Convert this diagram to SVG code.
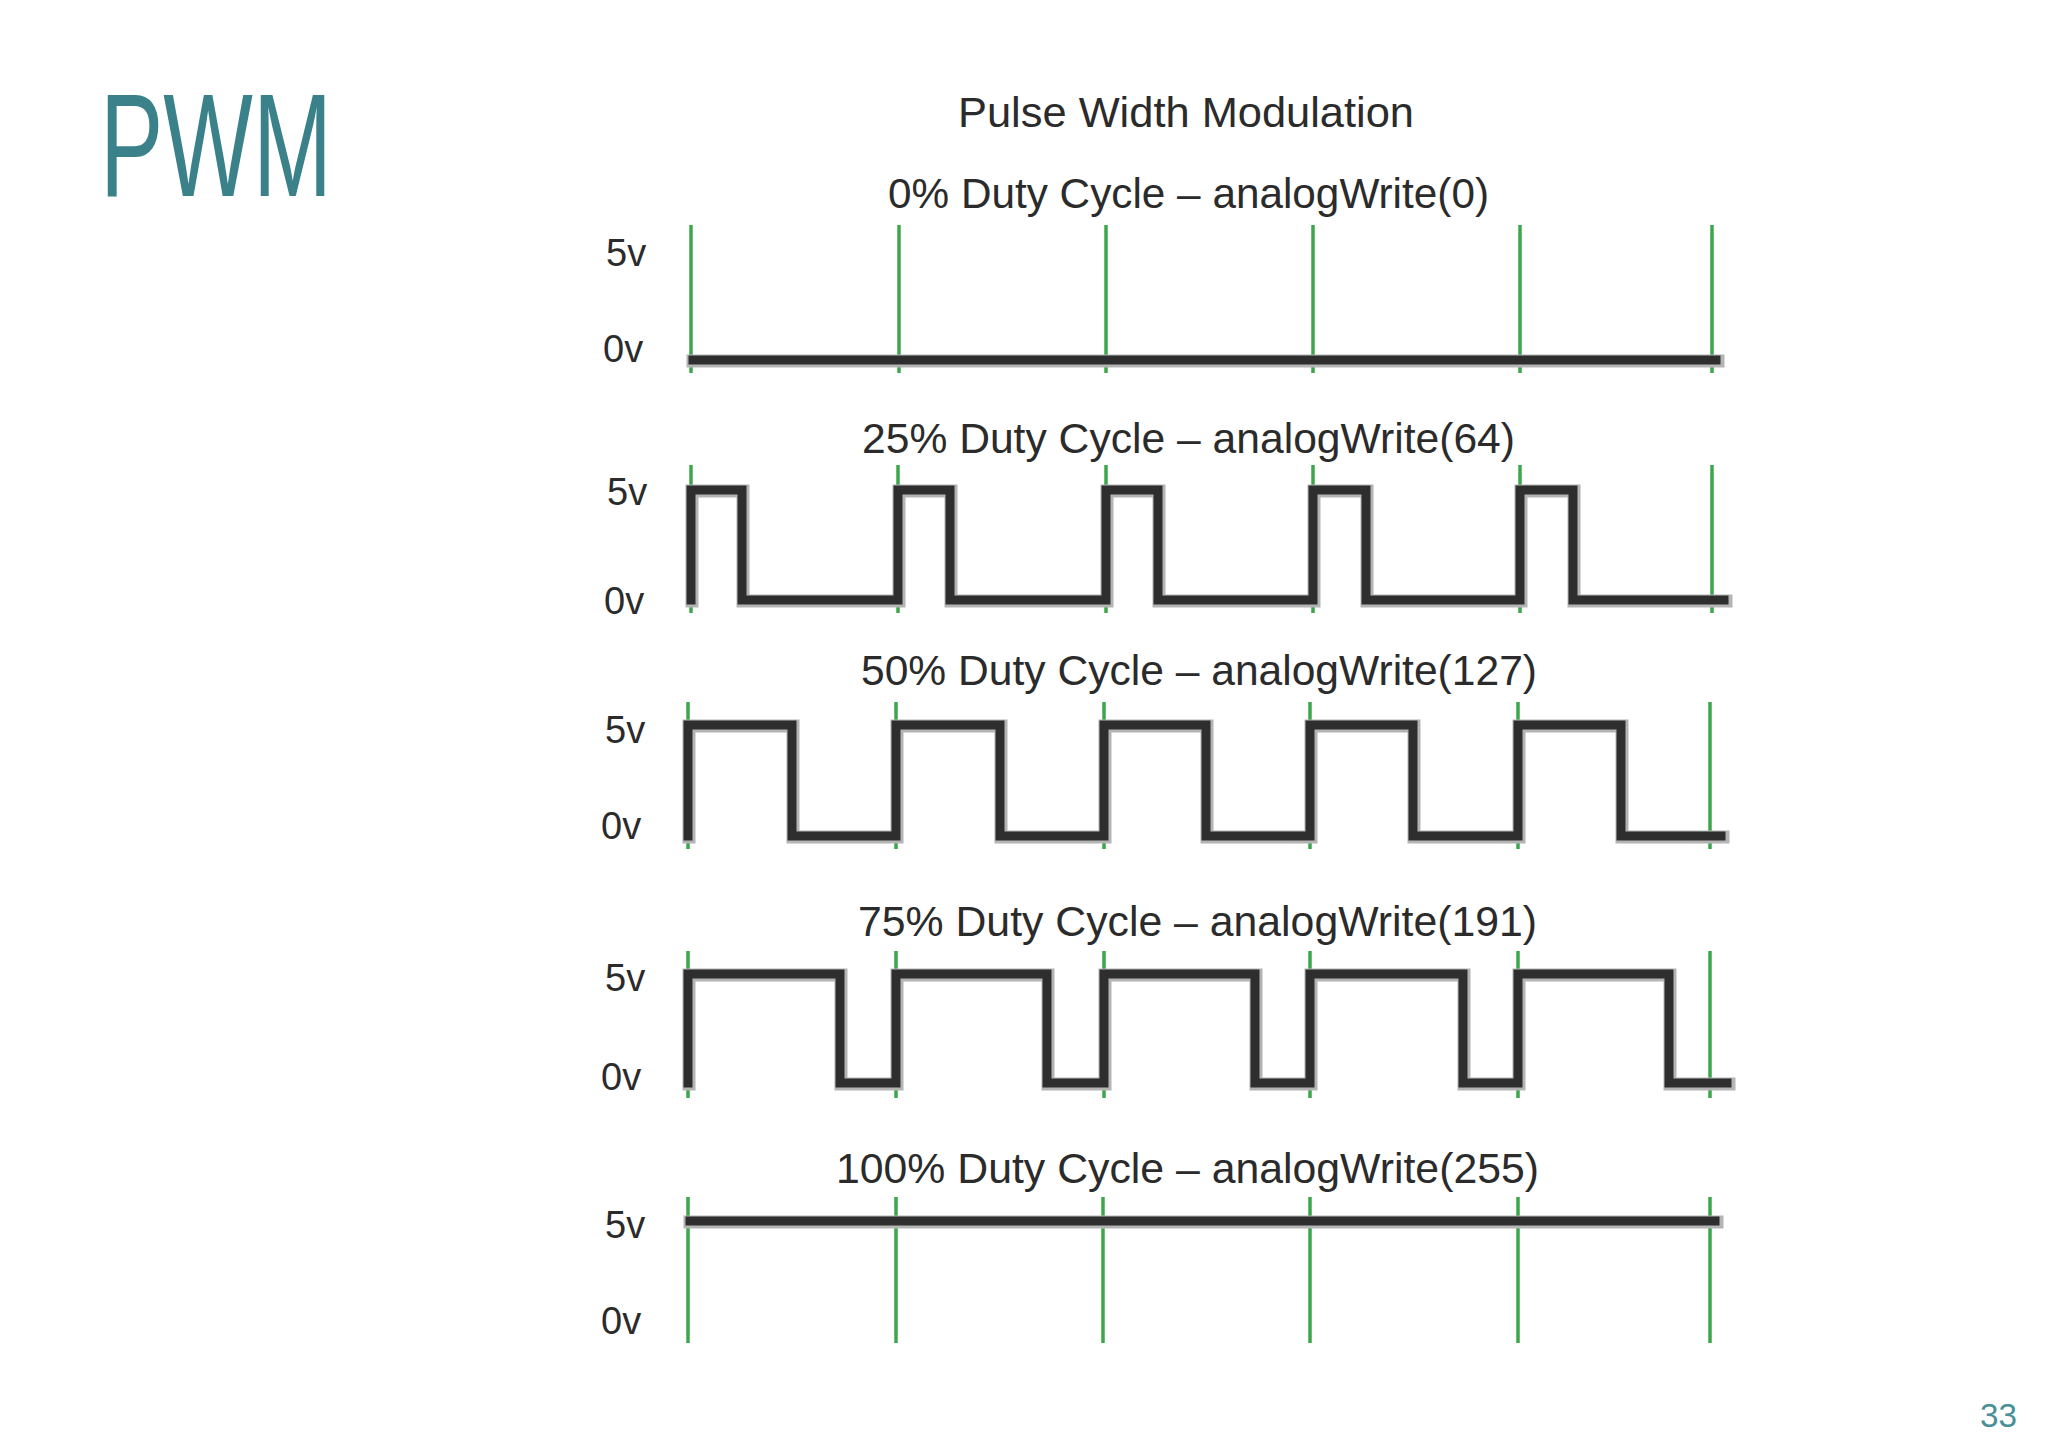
<svg xmlns="http://www.w3.org/2000/svg" width="2048" height="1448" viewBox="0 0 2048 1448">
<style>
.t{font-family:"Liberation Sans",Arial,sans-serif;fill:#2b2b2b}
.ttl{font-size:42px}
.lbl{font-size:38px}
.grid line{stroke:#3da64a;stroke-width:3.5}
.halo{fill:none;stroke:#b4b4b4;stroke-width:13;stroke-linejoin:miter;stroke-linecap:square}
.wave{fill:none;stroke:#2e2e2e;stroke-width:9;stroke-linejoin:miter;stroke-linecap:square}
</style>
<rect width="2048" height="1448" fill="#ffffff"/>
<text id="heading" x="100" y="196" font-family="Liberation Sans, Arial, sans-serif" font-size="147" fill="#3a8189" textLength="232" lengthAdjust="spacingAndGlyphs">PWM</text>
<text id="page" x="1980" y="1427" font-family="Liberation Sans, Arial, sans-serif" font-size="33" fill="#4a9099" textLength="37" lengthAdjust="spacingAndGlyphs">33</text>
<text id="title" class="t" x="958" y="127" font-size="43" textLength="456" lengthAdjust="spacingAndGlyphs">Pulse Width Modulation</text>

<g id="panel0">
<text class="t ttl" x="888" y="208" textLength="601" lengthAdjust="spacingAndGlyphs">0% Duty Cycle – analogWrite(0)</text>
<text class="t lbl" x="606" y="266">5v</text>
<text class="t lbl" x="603" y="362">0v</text>
<g class="grid"><line x1="691" y1="225" x2="691" y2="373"/><line x1="899" y1="225" x2="899" y2="373"/><line x1="1106" y1="225" x2="1106" y2="373"/><line x1="1313" y1="225" x2="1313" y2="373"/><line x1="1520" y1="225" x2="1520" y2="373"/><line x1="1712" y1="225" x2="1712" y2="373"/></g>
<path class="halo" d="M693,361 H1718"/>
<path class="wave" d="M693,360 H1716"/>
</g>

<g id="panel25">
<text class="t ttl" x="862" y="453" textLength="653" lengthAdjust="spacingAndGlyphs">25% Duty Cycle – analogWrite(64)</text>
<text class="t lbl" x="607" y="505">5v</text>
<text class="t lbl" x="604" y="614">0v</text>
<g class="grid"><line x1="691" y1="465" x2="691" y2="613"/><line x1="898" y1="465" x2="898" y2="613"/><line x1="1106" y1="465" x2="1106" y2="613"/><line x1="1313" y1="465" x2="1313" y2="613"/><line x1="1520" y1="465" x2="1520" y2="613"/><line x1="1712" y1="465" x2="1712" y2="613"/></g>
<path class="halo" d="M692,601 V491 H743 V601 H899 V491 H951 V601 H1107 V491 H1159 V601 H1314 V491 H1367 V601 H1521 V491 H1574 V601 H1726"/>
<path class="wave" d="M691,600 V490 H742 V600 H898 V490 H950 V600 H1106 V490 H1158 V600 H1313 V490 H1366 V600 H1520 V490 H1573 V600 H1724"/>
</g>

<g id="panel50">
<text class="t ttl" x="861" y="685" textLength="676" lengthAdjust="spacingAndGlyphs">50% Duty Cycle – analogWrite(127)</text>
<text class="t lbl" x="605" y="743">5v</text>
<text class="t lbl" x="601" y="839">0v</text>
<g class="grid"><line x1="688" y1="702" x2="688" y2="849"/><line x1="896" y1="702" x2="896" y2="849"/><line x1="1104" y1="702" x2="1104" y2="849"/><line x1="1310" y1="702" x2="1310" y2="849"/><line x1="1518" y1="702" x2="1518" y2="849"/><line x1="1710" y1="702" x2="1710" y2="849"/></g>
<path class="halo" d="M689,837 V726 H793 V837 H897 V726 H1001 V837 H1105 V726 H1207 V837 H1311 V726 H1414 V837 H1519 V726 H1622 V837 H1723"/>
<path class="wave" d="M688,836 V725 H792 V836 H896 V725 H1000 V836 H1104 V725 H1206 V836 H1310 V725 H1413 V836 H1518 V725 H1621 V836 H1721"/>
</g>

<g id="panel75">
<text class="t ttl" x="858" y="936" textLength="679" lengthAdjust="spacingAndGlyphs">75% Duty Cycle – analogWrite(191)</text>
<text class="t lbl" x="605" y="991">5v</text>
<text class="t lbl" x="601" y="1090">0v</text>
<g class="grid"><line x1="688" y1="951" x2="688" y2="1098"/><line x1="896" y1="951" x2="896" y2="1098"/><line x1="1104" y1="951" x2="1104" y2="1098"/><line x1="1310" y1="951" x2="1310" y2="1098"/><line x1="1518" y1="951" x2="1518" y2="1098"/><line x1="1710" y1="951" x2="1710" y2="1098"/></g>
<path class="halo" d="M689,1084 V975 H841 V1084 H897 V975 H1048 V1084 H1105 V975 H1256 V1084 H1311 V975 H1464 V1084 H1519 V975 H1670 V1084 H1729"/>
<path class="wave" d="M688,1083 V974 H840 V1083 H896 V974 H1047 V1083 H1104 V974 H1255 V1083 H1310 V974 H1463 V1083 H1518 V974 H1669 V1083 H1727"/>
</g>

<g id="panel100">
<text class="t ttl" x="836" y="1183" textLength="703" lengthAdjust="spacingAndGlyphs">100% Duty Cycle – analogWrite(255)</text>
<text class="t lbl" x="605" y="1238">5v</text>
<text class="t lbl" x="601" y="1334">0v</text>
<g class="grid"><line x1="688" y1="1197" x2="688" y2="1343"/><line x1="896" y1="1197" x2="896" y2="1343"/><line x1="1103" y1="1197" x2="1103" y2="1343"/><line x1="1310" y1="1197" x2="1310" y2="1343"/><line x1="1518" y1="1197" x2="1518" y2="1343"/><line x1="1710" y1="1197" x2="1710" y2="1343"/></g>
<path class="halo" d="M690,1222 H1717"/>
<path class="wave" d="M690,1221 H1715"/>
</g>
</svg>
